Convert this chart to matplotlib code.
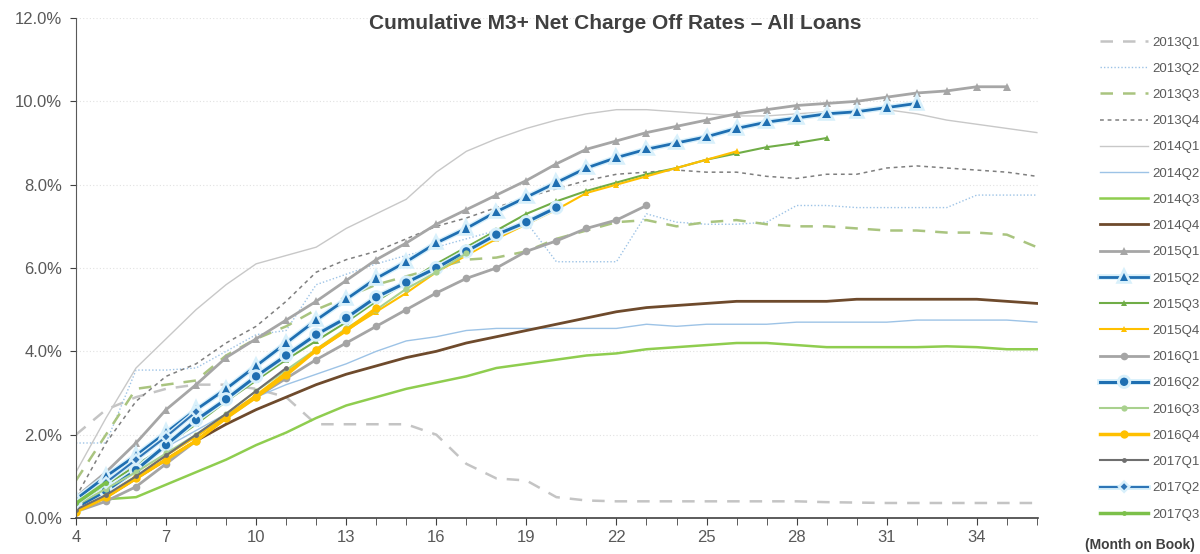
import numpy as np
import matplotlib
matplotlib.use("Agg")
import matplotlib.pyplot as plt
import matplotlib.patheffects as pe
from matplotlib.ticker import MultipleLocator, FuncFormatter

plt.rcParams['font.family'] = ['Liberation Sans', 'DejaVu Sans']

# ---data (cumulative net charge off rate, %) --- #
months = list(range(4, 37))

q2013_1 = [2.0, 2.6, 2.9, 3.1, 3.2, 3.2, 3.1, 2.9, 2.25, 2.25, 2.25, 2.25, 2.0, 1.3, 0.95,
           0.9, 0.5, 0.42, 0.4, 0.4, 0.4, 0.4, 0.4, 0.4, 0.4, 0.38, 0.37, 0.36, 0.36, 0.36,
           0.36, 0.36, 0.36]
q2013_2 = [1.8, 1.8, 3.55, 3.55, 3.6, 4.0, 4.4, 4.5, 5.6, 5.85, 6.1, 6.3, 6.5, 6.7, 6.9,
           7.1, 6.15, 6.15, 6.15, 7.3, 7.1, 7.05, 7.05, 7.1, 7.5, 7.5, 7.45, 7.45, 7.45, 7.45,
           7.75, 7.75, 7.75]
q2013_3 = [0.9, 2.0, 3.1, 3.2, 3.3, 3.9, 4.3, 4.6, 5.0, 5.3, 5.6, 5.8, 6.0, 6.2, 6.25,
           6.4, 6.7, 6.9, 7.1, 7.15, 7.0, 7.1, 7.15, 7.05, 7.0, 7.0, 6.95, 6.9, 6.9, 6.85,
           6.85, 6.8, 6.5]
q2013_4 = [0.5, 1.8, 2.8, 3.4, 3.7, 4.2, 4.6, 5.2, 5.9, 6.2, 6.4, 6.7, 7.0, 7.2, 7.45,
           7.7, 7.9, 8.1, 8.25, 8.3, 8.35, 8.3, 8.3, 8.2, 8.15, 8.25, 8.25, 8.4, 8.45, 8.4,
           8.35, 8.3, 8.2]
q2014_1 = [1.1, 2.4, 3.6, 4.3, 5.0, 5.6, 6.1, 6.3, 6.5, 6.95, 7.3, 7.65, 8.3, 8.8, 9.1,
           9.35, 9.55, 9.7, 9.8, 9.8, 9.75, 9.7, 9.65, 9.65, 9.7, 9.75, 9.75, 9.8, 9.7, 9.55,
           9.45, 9.35, 9.25]
q2014_2 = [0.4, 0.9, 1.3, 1.7, 2.1, 2.5, 2.9, 3.2, 3.45, 3.7, 4.0, 4.25, 4.35, 4.5, 4.55,
           4.55, 4.55, 4.55, 4.55, 4.65, 4.6, 4.65, 4.65, 4.65, 4.7, 4.7, 4.7, 4.7, 4.75, 4.75,
           4.75, 4.75, 4.7]
q2014_3 = [0.45, 0.45, 0.5, 0.8, 1.1, 1.4, 1.75, 2.05, 2.4, 2.7, 2.9, 3.1, 3.25, 3.4, 3.6,
           3.7, 3.8, 3.9, 3.95, 4.05, 4.1, 4.15, 4.2, 4.2, 4.15, 4.1, 4.1, 4.1, 4.1, 4.12,
           4.1, 4.05, 4.05]
q2014_4 = [0.2, 0.5, 0.95, 1.4, 1.85, 2.25, 2.6, 2.9, 3.2, 3.45, 3.65, 3.85, 4.0, 4.2, 4.35,
           4.5, 4.65, 4.8, 4.95, 5.05, 5.1, 5.15, 5.2, 5.2, 5.2, 5.2, 5.25, 5.25, 5.25, 5.25,
           5.25, 5.2, 5.15]
q2015_1 = [0.5, 1.1, 1.8, 2.6, 3.2, 3.85, 4.3, 4.75, 5.2, 5.7, 6.2, 6.6, 7.05, 7.4, 7.75,
           8.1, 8.5, 8.85, 9.05, 9.25, 9.4, 9.55, 9.7, 9.8, 9.9, 9.95, 10.0, 10.1, 10.2, 10.25,
           10.35, 10.35]
q2015_2 = [0.45, 1.0, 1.5, 2.05, 2.6, 3.1, 3.65, 4.2, 4.75, 5.25, 5.75, 6.15, 6.6, 6.95, 7.35,
           7.7, 8.05, 8.4, 8.65, 8.85, 9.0, 9.15, 9.35, 9.5, 9.6, 9.7, 9.75, 9.85, 9.95]
q2015_3 = [0.35, 0.8, 1.25, 1.75, 2.25, 2.8, 3.3, 3.8, 4.25, 4.7, 5.2, 5.65, 6.1, 6.5, 6.9,
           7.3, 7.6, 7.85, 8.05, 8.25, 8.4, 8.6, 8.75, 8.9, 9.0, 9.12]
q2015_4 = [0.2, 0.55, 1.0, 1.5, 1.95, 2.45, 2.95, 3.5, 4.0, 4.5, 4.95, 5.4, 5.9, 6.3, 6.7,
           7.05, 7.4, 7.8, 8.0, 8.2, 8.4, 8.6, 8.8]
q2016_1 = [0.15, 0.4, 0.75, 1.3, 1.85, 2.4, 2.9, 3.35, 3.8, 4.2, 4.6, 5.0, 5.4, 5.75, 6.0,
           6.4, 6.65, 6.95, 7.15, 7.5]
q2016_2 = [0.25, 0.65, 1.15, 1.75, 2.35, 2.85, 3.4, 3.9, 4.4, 4.8, 5.3, 5.65, 6.0, 6.4, 6.8,
           7.1, 7.45]
q2016_3 = [0.3, 0.7, 1.1, 1.55, 2.0, 2.5, 3.05, 3.55, 4.05, 4.55, 5.0, 5.5, 5.9, 6.35]
q2016_4 = [0.15, 0.5, 0.95, 1.4, 1.85, 2.4, 2.9, 3.43, 4.03, 4.5, 5.03]
q2017_1 = [0.2, 0.55, 1.0, 1.5, 2.0, 2.5, 3.05, 3.6]
q2017_2 = [0.35, 0.85, 1.4, 1.95, 2.55]
q2017_3 = [0.35, 0.85]

labels = ["2013Q1", "2013Q2", "2013Q3", "2013Q4", "2014Q1", "2014Q2", "2014Q3", "2014Q4",
          "2015Q1", "2015Q2", "2015Q3", "2015Q4", "2016Q1", "2016Q2", "2016Q3", "2016Q4",
          "2017Q1", "2017Q2", "2017Q3"]
series = [q2013_1, q2013_2, q2013_3, q2013_4, q2014_1, q2014_2, q2014_3, q2014_4,
          q2015_1, q2015_2, q2015_3, q2015_4, q2016_1, q2016_2, q2016_3, q2016_4,
          q2017_1, q2017_2, q2017_3]

# color, linestyle, linewidth, marker, markersize, glow
styles = [
    ("#c4c4c4", (0, (5, 4)), 1.8, None, 0, False),
    ("#9dc3e6", (0, (1, 1.5)), 1.0, None, 0, False),
    ("#a9c47f", (0, (5, 4)), 1.8, None, 0, False),
    ("#7f7f7f", (0, (2.5, 2.5)), 1.1, None, 0, False),
    ("#c8c8c8", "-", 1.0, None, 0, False),
    ("#9dc3e6", "-", 1.0, None, 0, False),
    ("#8fcd4f", "-", 1.8, None, 0, False),
    ("#6e4a2c", "-", 2.0, None, 0, False),
    ("#a6a6a6", "-", 2.0, "^", 6, False),
    ("#1f6fb2", "-", 2.0, "^", 6, True),
    ("#70ad47", "-", 1.5, "^", 4.5, False),
    ("#ffc000", "-", 1.5, "^", 5, False),
    ("#a5a5a5", "-", 2.0, "o", 5.5, False),
    ("#1f6fb2", "-", 2.2, "o", 6, True),
    ("#a9d18e", "-", 1.5, "o", 4.5, False),
    ("#ffc000", "-", 2.5, "o", 6, False),
    ("#6f6f6f", "-", 1.5, "o", 3.5, False),
    ("#2e75b6", "-", 1.5, "D", 3.5, True),
    ("#7cc04a", "-", 2.5, "o", 3.5, False),
]

fig = plt.figure(figsize=(12, 5.54), dpi=100)
ax = fig.add_axes([0.0633, 0.065, 0.802, 0.9025])

for lab, vals, st in zip(labels, series, styles):
    col, ls, lw, mk, ms, glow = st
    x = months[:len(vals)]
    line, = ax.plot(x, vals, color=col, linestyle=ls, linewidth=lw, marker=mk,
                    markersize=ms, label=lab, markeredgewidth=0)
    if glow:
        line.set_path_effects([pe.Stroke(linewidth=lw + 2, foreground="#d8f0fb"), pe.Normal()])

ax.set_xlim(4, 36.05)
ax.set_ylim(0, 12)
ax.xaxis.set_minor_locator(MultipleLocator(1))
ax.set_xticks(range(4, 36, 3))
ax.yaxis.set_major_locator(MultipleLocator(2))
ax.yaxis.set_major_formatter(FuncFormatter(lambda v, p: "%.1f%%" % v))
ax.grid(axis="y", color="#e2e2e2", linestyle=(0, (1, 2)), linewidth=0.8)
ax.set_axisbelow(True)

for s in ["top", "right"]:
    ax.spines[s].set_visible(False)
ax.spines["left"].set_color("#595959")
ax.spines["bottom"].set_color("#404040")
ax.spines["bottom"].set_linewidth(1.2)
ax.tick_params(axis="both", which="both", colors="#404040", labelcolor="#595959",
               labelsize=12, direction="out")
ax.tick_params(axis="x", which="both", length=5)
ax.tick_params(axis="y", length=4, pad=6)

fig.text(0.5125, 0.958, "Cumulative M3+ Net Charge Off Rates \u2013 All Loans",
         ha="center", va="center", fontsize=15, fontweight="bold", color="#404040")

leg = fig.legend(loc="upper left", bbox_to_anchor=(0.912, 0.944), frameon=False,
                 fontsize=9.5, labelcolor="#595959", handlelength=3.7, handletextpad=0.3,
                 labelspacing=1.06, borderaxespad=0)

fig.text(0.996, 0.017, "(Month on Book)", ha="right", va="center", fontsize=10,
         fontweight="bold", color="#404040")

fig.savefig("out.png", dpi=100)
